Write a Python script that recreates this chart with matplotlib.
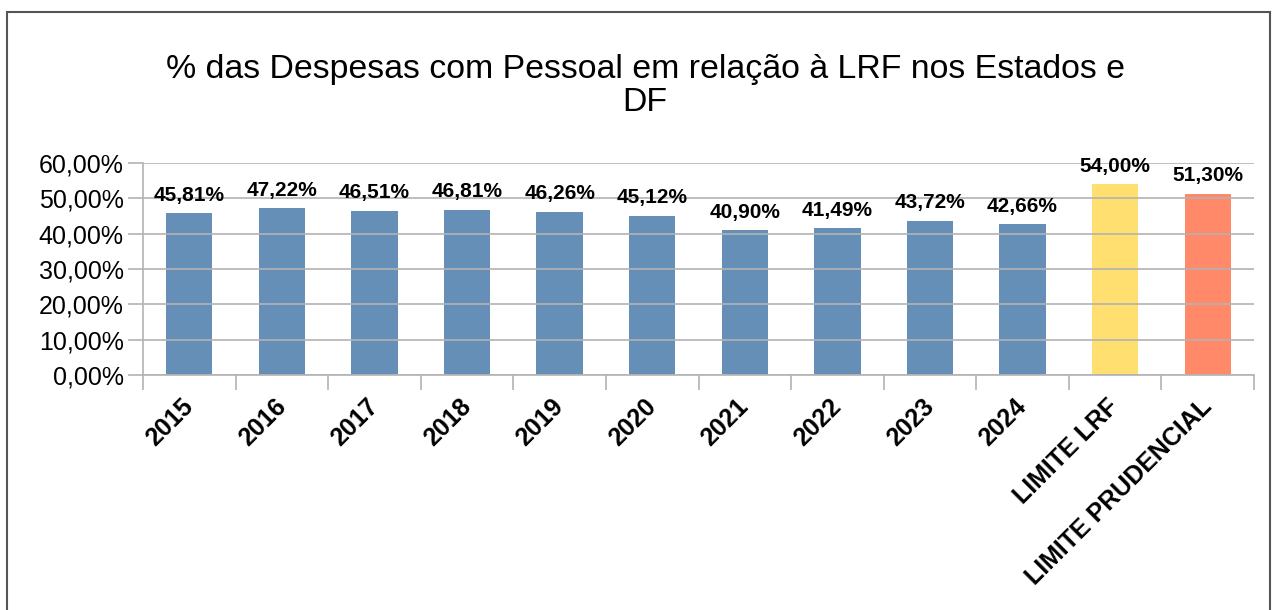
import matplotlib
matplotlib.use("Agg")
import matplotlib.pyplot as plt
from matplotlib.patches import Rectangle
import numpy as np

plt.rcParams['font.family'] = ['Liberation Sans', 'DejaVu Sans']

categories = ["2015", "2016", "2017", "2018", "2019", "2020", "2021", "2022",
              "2023", "2024", "LIMITE LRF", "LIMITE PRUDENCIAL"]
values = [45.81, 47.22, 46.51, 46.81, 46.26, 45.12, 40.90, 41.49, 43.72, 42.66,
          54.00, 51.30]
labels = ["45,81%", "47,22%", "46,51%", "46,81%", "46,26%", "45,12%", "40,90%",
          "41,49%", "43,72%", "42,66%", "54,00%", "51,30%"]
yticks = [0, 10, 20, 30, 40, 50, 60]
yticklabels = ["0,00%", "10,00%", "20,00%", "30,00%", "40,00%", "50,00%", "60,00%"]
title = "% das Despesas com Pessoal em relação à LRF nos Estados e\nDF"

blue = "#4a7baa"
colors = [blue] * 10 + ["#ffda57", "#ff754e"]

W, H = 1273, 610
fig = plt.figure(figsize=(W / 100, H / 100), dpi=100)
fig.patches.append(Rectangle((7 / W, -0.1), (1270 - 7) / W, (H - 12) / H + 0.1,
                             transform=fig.transFigure, fill=False,
                             edgecolor="#555555", linewidth=1.5))

ax = fig.add_axes([143 / W, 1 - 375 / H, (1254 - 143) / W, (375 - 163) / H])
x = np.arange(len(categories))
ax.bar(x, values, width=0.5, color=colors, alpha=0.85, zorder=1)
ax.set_xlim(-0.5, len(categories) - 0.5)
ax.set_ylim(0, 60)
ax.set_yticks(yticks)
ax.set_yticklabels(yticklabels, fontsize=18)
ax.yaxis.grid(True, color="#b3b3b3", linewidth=1.2, zorder=2)
ax.set_axisbelow(False)
for s in ["top", "right"]:
    ax.spines[s].set_visible(False)
ax.spines["left"].set_color("#b3b3b3")
ax.spines["bottom"].set_color("#b3b3b3")
ax.spines["left"].set_linewidth(1.2)
ax.spines["bottom"].set_linewidth(1.2)
ax.tick_params(axis="y", length=11, color="#b3b3b3", width=1.2, pad=3)

# x ticks at category boundaries
ax.set_xticks(np.arange(-0.5, len(categories), 1.0), minor=False)
ax.set_xticklabels([])
ax.tick_params(axis="x", length=11, color="#b3b3b3", width=1.2)
for xi, lab in zip(x, categories):
    ax.annotate(lab, xy=(xi, 0), xycoords=("data", "axes fraction"),
                xytext=(-6, -14), textcoords="offset points",
                rotation=45, ha="right", va="top", fontsize=18,
                fontweight="bold", rotation_mode="anchor")

for xi, v, lab in zip(x, values, labels):
    ax.annotate(lab, xy=(xi, v), xytext=(0, 6), textcoords="offset points",
                ha="center", va="bottom", fontsize=15, fontweight="bold")

fig.text(645 / W, 1 - 86 / H, title, ha="center", va="center", fontsize=24.4,
         linespacing=1.12)

fig.savefig("out.png", dpi=100)
